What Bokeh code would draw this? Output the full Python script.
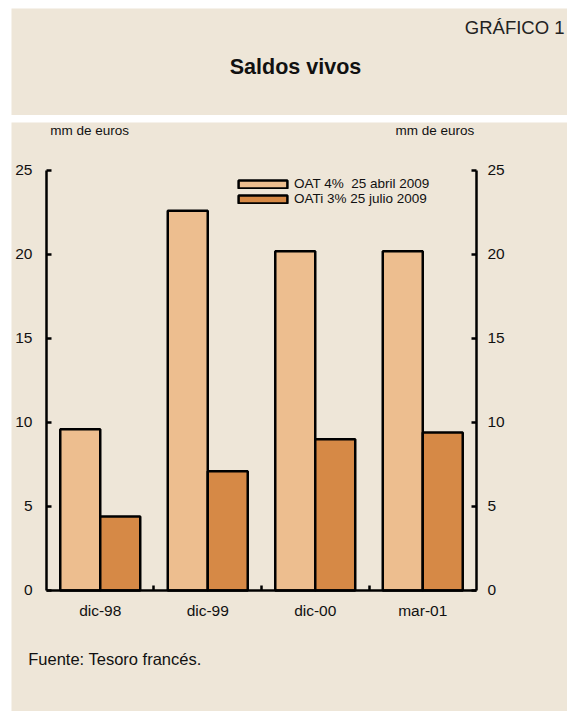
from bokeh.plotting import figure
from bokeh.models import (ColumnDataSource, Range1d, LinearAxis, FixedTicker,
                          Label, Legend, LegendItem)
from bokeh.layouts import column
from bokeh.embed import file_html
from bokeh.resources import INLINE

# ---- data ----
categories = ["dic-98", "dic-99", "dic-00", "mar-01"]
oat_values = [9.6, 22.6, 20.2, 20.2]
oati_values = [4.4, 7.1, 9.0, 9.4]
series_names = ["OAT 4%  25 abril 2009", "OATi 3% 25 julio 2009"]
y_ticks = [0, 5, 10, 15, 20, 25]
title_text = "Saldos vivos"
chart_number = "GRÁFICO 1"
unit_text = "mm de euros"
source_text = "Fuente: Tesoro francés."

# ---- styles ----
BEIGE = "#EEE6D8"
LIGHT = "#EDBE8F"
DARK = "#D68946"
FONT = "Liberation Sans"
TXT = "#111111"
BAR_W = 0.372
OFF = 0.186

# ---- header panel ----
head = figure(width=556, height=107, x_range=Range1d(0, 556), y_range=Range1d(107, 0),
              toolbar_location=None, output_backend="svg",
              min_border=0, min_border_left=0, min_border_right=0,
              min_border_top=0, min_border_bottom=0,
              x_axis_type=None, y_axis_type=None,
              background_fill_color=BEIGE, border_fill_color=BEIGE,
              outline_line_color=None)
head.grid.visible = False
head.margin = (8, 0, 0, 11)
head.add_layout(Label(x=553, y=19, text=chart_number, text_align="right",
                      text_baseline="middle", text_font=FONT,
                      text_font_size="18.5px", text_color="#222222"))
head.add_layout(Label(x=284, y=58, text=title_text, text_align="center",
                      text_baseline="middle", text_font=FONT, text_font_style="bold",
                      text_font_size="21.5px", text_color=TXT))

# ---- chart panel ----
idx = list(range(len(categories)))
src = ColumnDataSource(dict(
    x_oat=[i + 0.5 - OFF for i in idx],
    x_oati=[i + 0.5 + OFF for i in idx],
    oat=oat_values,
    oati=oati_values,
))

# frame spans the whole beige panel; axes are pinned with fixed_location
p = figure(width=556, height=589,
           x_range=Range1d(-0.32558, 4.84651), y_range=Range1d(-7.2024, 27.857),
           toolbar_location=None, output_backend="svg",
           background_fill_color=BEIGE, border_fill_color=BEIGE,
           outline_line_color=None,
           min_border=0, min_border_left=0, min_border_right=0,
           min_border_top=0, min_border_bottom=0)
p.margin = (7, 0, 0, 11)
p.grid.visible = False

r1 = p.vbar(x="x_oat", top="oat", width=BAR_W, bottom=0, source=src,
            fill_color=LIGHT, line_color="black", line_width=2.5)
r2 = p.vbar(x="x_oati", top="oati", width=BAR_W, bottom=0, source=src,
            fill_color=DARK, line_color="black", line_width=2.5)

def style_y(ax):
    ax.ticker = FixedTicker(ticks=y_ticks, minor_ticks=[])
    ax.bounds = (y_ticks[0], y_ticks[-1])
    ax.major_tick_in = 5
    ax.major_tick_out = 0
    ax.minor_tick_in = 0
    ax.minor_tick_out = 0
    ax.axis_line_width = 2.5
    ax.major_tick_line_width = 2.5
    ax.major_label_text_font = FONT
    ax.major_label_text_font_size = "15.5px"
    ax.major_label_text_color = TXT

yl = p.yaxis[0]
style_y(yl)
yl.fixed_location = 0
yl.major_label_standoff = 14
yr = LinearAxis(fixed_location=len(categories))
style_y(yr)
yr.major_label_standoff = 11
p.add_layout(yr, "right")

xa = p.xaxis[0]
xa.fixed_location = 0
xa.bounds = (0, len(categories))
xa.ticker = FixedTicker(ticks=[i + 0.5 for i in idx], minor_ticks=[i for i in idx[1:]])
xa.major_label_overrides = {i + 0.5: c for i, c in zip(idx, categories)}
xa.major_tick_in = 0
xa.major_tick_out = 0
xa.minor_tick_in = 5
xa.minor_tick_out = 0
xa.minor_tick_line_width = 2.5
xa.axis_line_width = 2.5
xa.major_label_standoff = 12
xa.major_label_text_font = FONT
xa.major_label_text_font_size = "15.5px"
xa.major_label_text_color = TXT

p.add_layout(Label(x=0.035, y=27.38, text=unit_text, text_align="left",
                   text_baseline="middle", text_font=FONT,
                   text_font_size="13.5px", text_color=TXT))
p.add_layout(Label(x=3.98, y=27.38, text=unit_text, text_align="right",
                   text_baseline="middle", text_font=FONT,
                   text_font_size="13.5px", text_color=TXT))
p.add_layout(Label(x=-0.17, y=-4.1, text=source_text, text_align="left",
                   text_baseline="middle", text_font=FONT,
                   text_font_size="16.5px", text_color=TXT))

legend = Legend(items=[LegendItem(label=series_names[0], renderers=[r1]),
                       LegendItem(label=series_names[1], renderers=[r2])],
                location=(221, 505), padding=0, margin=0, spacing=-5,
                glyph_width=61, glyph_height=10, label_height=12,
                label_standoff=1, label_text_font=FONT,
                label_text_font_size="13.5px", label_text_color=TXT,
                background_fill_alpha=0, border_line_color=None)
p.add_layout(legend)

layout = column(head, p, spacing=0)
open("out.html", "w").write(file_html(layout, INLINE))
